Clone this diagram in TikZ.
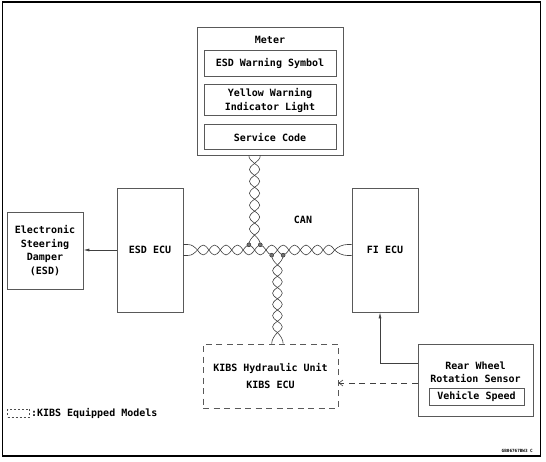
\documentclass[tikz,border=0pt]{standalone}
\usepackage{fontspec}
\newfontfamily\cadfont{DejaVu Sans Mono Bold}
\usetikzlibrary{positioning,calc,arrows.meta}

\tikzset{
  unit/.style={draw=black!65,line width=0.9pt,align=center,inner sep=2pt},
  kibsbox/.style={unit,dash pattern=on 6pt off 4.5pt},
  wire/.style={draw=black!75,line width=0.6pt},
  joint/.style={circle,fill=black!55,draw=black!85,line width=0.4pt,inner sep=0pt,minimum size=4pt},
  signal/.style={draw=black!75,line width=0.6pt,-{Latex[length=6pt,width=3pt]}},
}

\begin{document}
\begin{tikzpicture}[x=1pt,y=-1pt,font=\cadfont\fontsize{10}{13.5}\selectfont]
\useasboundingbox (0,0) rectangle (546,462);
\draw[line width=1.3pt] (2.5,2) rectangle (540.5,456);

% meter with its displays
\node[unit,minimum width=146pt,minimum height=128pt] (meter) at (270,91) {};
\node (metername) at (270,40) {Meter};
\node[unit,minimum width=132pt,minimum height=26pt,below=23pt of meter.north] (esdsym) {ESD Warning Symbol};
\node[unit,minimum width=132pt,minimum height=31pt,below=8pt of esdsym] (yellow) {Yellow Warning\\Indicator Light};
\node[unit,minimum width=132pt,minimum height=25pt,below=8pt of yellow] (service) {Service Code};

% control units
\node[unit,minimum width=66pt,minimum height=124pt] (esdecu) at (150,250) {ESD ECU};
\node[unit,minimum width=66pt,minimum height=124pt] (fiecu) at (385,250) {FI ECU};
\node[unit,minimum width=76pt,minimum height=77pt] (esd) at (45,250.5) {Electronic\\Steering\\Damper\\(ESD)};
\node (can) at (303,220) {CAN};
\node[kibsbox,minimum width=135pt,minimum height=64pt] (kibs) at (270.5,376) {KIBS Hydraulic Unit\\[3.5pt]KIBS ECU};
\node[unit,minimum width=115pt,minimum height=72pt] (rwrs) at (475.5,380) {};
\node[align=center] (rwrsname) at (475.5,372.5) {Rear Wheel\\Rotation Sensor};
\node[unit,minimum width=95pt,minimum height=17pt] (speed) at (476.5,396.5) {Vehicle Speed};

% legend and drawing code
\node[draw=black!70,dash pattern=on 2pt off 2pt,line width=0.6pt,minimum width=22pt,minimum height=8pt,inner sep=0pt] (legendbox) at (18.5,413) {};
\node[right=1pt of legendbox,inner sep=0pt] (legend) {:KIBS Equipped Models};
\node[anchor=east,inner sep=0pt,font=\cadfont\fontsize{4.3}{5}\selectfont] (code) at (533,451) {GB06767BW3 C};

% CAN bus, horizontal pair
\coordinate (h0) at ($(esdecu.east)+(14,0)$);
\coordinate (h12) at ($(fiecu.west)+(-17,0)$);
\foreach \i in {1,...,11}
  \coordinate (h\i) at ($(h0)!\i/12!(h12)$);
\foreach \i in {0,...,11}
  \draw[wire] (h\i) to[bend left=55,looseness=1.8] (h\the\numexpr\i+1\relax)
                    to[bend left=55,looseness=1.8] (h\i);
\draw[wire] ($(esdecu.east)+(0,-5.5)$) -- ++(4,0) .. controls +(5,0) and +(-3,-3) .. (h0);
\draw[wire] ($(esdecu.east)+(0,5.5)$) -- ++(4,0) .. controls +(5,0) and +(-3,3) .. (h0);
\draw[wire] (h12) .. controls +(3,-3) and +(-5,0) .. ($(fiecu.west)+(-4,-5.5)$) -- ($(fiecu.west)+(0,-5.5)$);
\draw[wire] (h12) .. controls +(3,3) and +(-5,0) .. ($(fiecu.west)+(-4,5.5)$) -- ($(fiecu.west)+(0,5.5)$);

% junction points
\coordinate (j1) at ($(h4)!0.5!(h5)+(0,-5.2)$);
\coordinate (j2) at ($(h5)!0.5!(h6)+(0,-5.2)$);
\coordinate (j3) at ($(h6)!0.5!(h7)+(0,5.2)$);
\coordinate (j4) at ($(h7)!0.5!(h8)+(0,5.2)$);

% pair to the meter
\coordinate (u0) at ($(meter.south -| h5)+(0,8)$);
\coordinate (u6) at ($(h5)+(0,-15)$);
\foreach \i in {1,...,5}
  \coordinate (u\i) at ($(u0)!\i/6!(u6)$);
\foreach \i in {0,...,5}
  \draw[wire] (u\i) to[bend left=55,looseness=1.8] (u\the\numexpr\i+1\relax)
                    to[bend left=55,looseness=1.8] (u\i);
\draw[wire] (meter.south -| j1) .. controls +(0,4) and +(-3,-3) .. (u0);
\draw[wire] (meter.south -| j2) .. controls +(0,4) and +(3,-3) .. (u0);
\draw[wire] (u6) .. controls +(-3,3) and +(0,-4) .. (j1);
\draw[wire] (u6) .. controls +(3,3) and +(0,-4) .. (j2);

% pair to the KIBS unit
\coordinate (l0) at ($(h7)+(0,15)$);
\coordinate (l6) at ($(kibs.north -| h7)+(0,-11)$);
\foreach \i in {1,...,5}
  \coordinate (l\i) at ($(l0)!\i/6!(l6)$);
\foreach \i in {0,...,5}
  \draw[wire] (l\i) to[bend left=55,looseness=1.8] (l\the\numexpr\i+1\relax)
                    to[bend left=55,looseness=1.8] (l\i);
\draw[wire] (j3) .. controls +(0,4) and +(-3,-3) .. (l0);
\draw[wire] (j4) .. controls +(0,4) and +(3,-3) .. (l0);
\draw[wire] (l6) .. controls +(-3,3) and +(0,-4) .. (kibs.north -| j3);
\draw[wire] (l6) .. controls +(3,3) and +(0,-4) .. (kibs.north -| j4);

\foreach \j in {j1,j2,j3,j4}
  \node[joint] (dot-\j) at (\j) {};

% signal lines
\draw[signal] (esdecu.west) -- (esdecu.west -| esd.east);
\coordinate (rw) at ($(rwrs.west)+(0,-17)$);
\draw[signal] (rw) -| ([xshift=-5pt]fiecu.south);
\coordinate (sp) at ($(rwrs.west)+(0,3)$);
\draw[draw=black!75,line width=0.6pt,dash pattern=on 6pt off 4.5pt,-{Straight Barb[length=4pt,width=6pt]}] (sp) -- (sp -| kibs.east);
\end{tikzpicture}
\end{document}
